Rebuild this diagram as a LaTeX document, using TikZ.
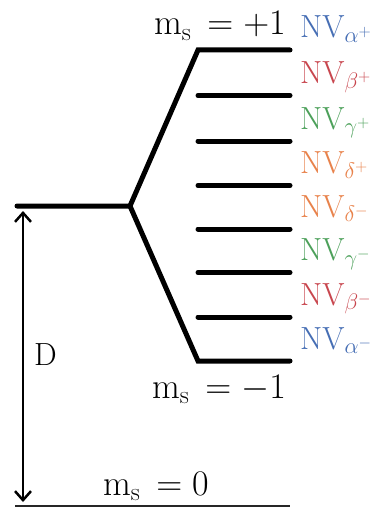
\RequirePackage{fix-cm}
\documentclass[tikz,border=0pt]{standalone}
\usetikzlibrary{arrows.meta}
\definecolor{nvblue}{RGB}{70,110,180}
\definecolor{nvred}{RGB}{200,70,78}
\definecolor{nvgreen}{RGB}{76,160,90}
\definecolor{nvorange}{RGB}{232,130,75}
\newcommand{\nvsub}[2]{NV$_{#1^{\scriptscriptstyle #2}}$}
\begin{document}
\begin{tikzpicture}[x=1pt,y=-1pt,
  lvl/.style={line width=5pt, line cap=round, line join=miter},
  nvlab/.style={anchor=base west, inner sep=0pt, font=\fontsize{32}{38}\selectfont},
  mslab/.style={anchor=base east, inner sep=0pt, font=\fontsize{36}{42}\selectfont}]
\useasboundingbox (0,0) rectangle (380,508);
% coordinates
\coordinate (c0) at (17,206);
\coordinate (c1) at (130,206);
\coordinate (a1) at (198,50);   \coordinate (a2) at (290,50);
\coordinate (b1) at (198,95.5); \coordinate (b2) at (290,95.5);
\coordinate (g1) at (198,141);  \coordinate (g2) at (290,141);
\coordinate (d1) at (198,185.5);\coordinate (d2) at (290,185.5);
\coordinate (e1) at (198,229);  \coordinate (e2) at (290,229);
\coordinate (h1) at (198,272.5);\coordinate (h2) at (290,272.5);
\coordinate (k1) at (198,317);  \coordinate (k2) at (290,317);
\coordinate (z1) at (198,361);  \coordinate (z2) at (290,361);
\coordinate (o1) at (15,506);   \coordinate (o2) at (290,506);
\coordinate (u1) at (23,211);   \coordinate (u2) at (23,502);
% levels
\draw[lvl] (c0) -- (c1) -- (a1) -- (a2);
\draw[lvl] (c1) -- (z1) -- (z2);
\foreach \p in {b,g,d,e,h,k} \draw[lvl] (\p1) -- (\p2);
\draw[line width=1.3pt, black!85] (o1) -- (o2);
\draw[line width=2.5pt, {Straight Barb[length=9pt,width=16pt,line width=2.5pt]}-{Straight Barb[length=9pt,width=16pt,line width=2.5pt]}] (u1) -- (u2);
% labels
\node[nvlab, nvblue]   (la) at ([xshift=10pt,yshift=12pt]a2) {\nvsub{\alpha}{+}};
\node[nvlab, nvred]    (lb) at ([xshift=10pt,yshift=12pt]b2) {\nvsub{\beta}{+}};
\node[nvlab, nvgreen]  (lg) at ([xshift=10pt,yshift=12pt]g2) {\nvsub{\gamma}{+}};
\node[nvlab, nvorange] (ld) at ([xshift=10pt,yshift=12pt]d2) {\nvsub{\delta}{+}};
\node[nvlab, nvorange] (le) at ([xshift=10pt,yshift=12pt]e2) {\nvsub{\delta}{-}};
\node[nvlab, nvgreen]  (lh) at ([xshift=10pt,yshift=12pt]h2) {\nvsub{\gamma}{-}};
\node[nvlab, nvred]    (lk) at ([xshift=10pt,yshift=12pt]k2) {\nvsub{\beta}{-}};
\node[nvlab, nvblue]   (lz) at ([xshift=10pt,yshift=12pt]z2) {\nvsub{\alpha}{-}};
\node[mslab] (mp) at (286,35) {$\mathrm{m}_\mathrm{s}\,= +1$};
\node[mslab] (mm) at (286,398) {$\mathrm{m}_\mathrm{s}\,= -1$};
\node[mslab] (m0) at (209,495) {$\mathrm{m}_\mathrm{s}\,= 0$};
\node[anchor=base west, inner sep=0pt, font=\fontsize{32}{38}\selectfont] (D) at (34,365) {D};
\end{tikzpicture}
\end{document}
